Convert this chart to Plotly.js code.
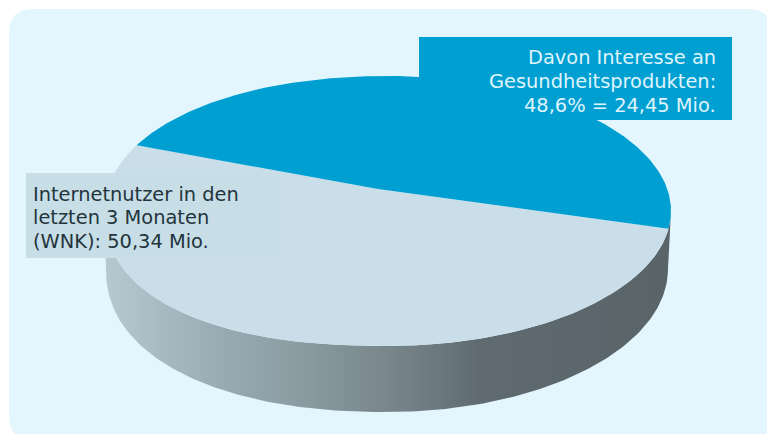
<!DOCTYPE html>
<html lang="de">
<head>
<meta charset="utf-8">
<script src="https://cdn.plot.ly/plotly-3.0.1.min.js"></script>
<style>html,body{margin:0;padding:0;background:#fff}#chart{width:767px;height:434px}</style>
</head>
<body>
<div id="chart"></div>
<script>
// Anteile der Internetnutzer in Prozent
const shareLabels = ['Interesse an Gesundheitsprodukten', 'Übrige Internetnutzer'];
const shareValues = [48.6, 51.4];
const shareColors = ['#009fd2', '#c9dee9'];

const interestLines = ['Davon Interesse an', 'Gesundheitsprodukten:', '48,6% = 24,45 Mio.'];
const totalLines = ['Internetnutzer in den', 'letzten 3 Monaten', '(WNK): 50,34 Mio.'];

// Scheibe in perspektivischer Ansicht; nUL/nLL runden die linke Seite etwas voller
const lid = {cx: 388, cy: 211, rx: 283, ry: 135, nUL: 2.1, nLL: 2.3};
const base = {cx: 387, cy: 269, rx: 281, ry: 143, nUL: 2, nLL: 2.2};
const hub = {x: 378, y: 189};
const startAngle = -69.4;    // Grad im Uhrzeigersinn ab 12 Uhr
const foreshorten = 0.8674;  // Stauchung der hinteren Kreishälfte

const rad = d => d * Math.PI / 180;

// Kreiswinkel (Uhrzeigersinn ab 12 Uhr) auf Parameterwinkel der Scheibenkante
function rimParam(deg) {
  const w = ((deg + 180) % 360 + 360) % 360 - 180;
  return 2 * Math.atan(foreshorten * Math.tan(rad(w) / 2));
}
function edgePoint(e, p) {
  const s = Math.sin(p), c = Math.cos(p);
  const n = s >= 0 ? 2 : (c >= 0 ? e.nUL : e.nLL);
  const e2 = 2 / n;
  return [e.cx + e.rx * Math.sign(s) * Math.pow(Math.abs(s), e2),
          e.cy - e.ry * Math.sign(c) * Math.pow(Math.abs(c), e2)];
}

function sliceTrace(fromDeg, toDeg, color, name) {
  const xs = [hub.x], ys = [hub.y];
  const steps = Math.ceil(Math.abs(toDeg - fromDeg));
  for (let i = 0; i <= steps; i++) {
    const pt = edgePoint(lid, rimParam(fromDeg + (toDeg - fromDeg) * i / steps));
    xs.push(pt[0]); ys.push(pt[1]);
  }
  xs.push(hub.x); ys.push(hub.y);
  return {type: 'scatter', mode: 'lines', x: xs, y: ys, name, fill: 'toself',
          fillcolor: color, line: {width: 0, color}, hoverinfo: 'skip', showlegend: false};
}

// Mantelfläche: untere Hälfte der Deckfläche und des Bodens
function wallTrace() {
  const xs = [], ys = [];
  for (let a = 90; a <= 270; a += 1) {
    const pt = edgePoint(lid, rad(a));
    xs.push(pt[0]); ys.push(pt[1]);
  }
  for (let a = 270; a >= 90; a -= 1) {
    const pt = edgePoint(base, rad(a));
    xs.push(pt[0]); ys.push(pt[1]);
  }
  return {type: 'scatter', mode: 'lines', x: xs, y: ys, name: 'Mantel', fill: 'toself',
          fillgradient: {type: 'horizontal', colorscale: [
            [0, '#b6c9d1'], [0.22, '#96a9b1'], [0.34, '#8b9ca2'],
            [0.49, '#7a888d'], [0.59, '#6b787d'], [0.66, '#5f6b70'], [1, '#596469']]},
          line: {width: 0, color: '#7a8a90'}, hoverinfo: 'skip', showlegend: false};
}

const deg0 = startAngle;
const deg1 = deg0 + shareValues[0] / 100 * 360;
const deg2 = deg1 + shareValues[1] / 100 * 360;

const traces = [
  wallTrace(),
  sliceTrace(deg1, deg2, shareColors[1], shareLabels[1]),
  sliceTrace(deg0, deg1, shareColors[0], shareLabels[0])
];

function roundedRect(x0, y0, x1, y1, r) {
  return `M${x0 + r},${y0} L${x1 - r},${y0} Q${x1},${y0} ${x1},${y0 + r} L${x1},${y1 - r} Q${x1},${y1} ${x1 - r},${y1} ` +
         `L${x0 + r},${y1} Q${x0},${y1} ${x0},${y1 - r} L${x0},${y0 + r} Q${x0},${y0} ${x0 + r},${y0} Z`;
}

const shapes = [
  {type: 'path', layer: 'below', path: roundedRect(9, 9, 772, 440, 24),
   fillcolor: '#e3f6fe', line: {width: 0}},
  {type: 'rect', layer: 'above', x0: 419, x1: 732, y0: 37, y1: 120,
   fillcolor: '#009fd2', line: {width: 0}},
  {type: 'rect', layer: 'above', x0: 26, x1: 279, y0: 173, y1: 258,
   fillcolor: '#c7dee7', line: {width: 0}}
];

const textFont = {family: 'DejaVu Sans, Verdana, sans-serif', size: 19.4};
const annotations = [];
interestLines.forEach((t, i) => annotations.push({
  x: 718, y: 57.5 + i * 24, text: t, showarrow: false, xanchor: 'right', yanchor: 'middle',
  xref: 'x', yref: 'y', font: {...textFont, color: '#dff4fc'}
}));
totalLines.forEach((t, i) => annotations.push({
  x: 31, y: 194 + i * 23.5, text: t, showarrow: false, xanchor: 'left', yanchor: 'middle',
  xref: 'x', yref: 'y', font: {...textFont, color: '#23343c'}
}));

const hidden = {visible: false, fixedrange: true};
const layout = {
  width: 767, height: 434,
  margin: {l: 0, r: 0, t: 0, b: 0},
  paper_bgcolor: '#ffffff', plot_bgcolor: 'rgba(0,0,0,0)',
  xaxis: {...hidden, range: [0, 767]},
  yaxis: {...hidden, range: [434, 0]},
  shapes, annotations, showlegend: false
};

Plotly.newPlot('chart', traces, layout, {displayModeBar: false, staticPlot: true});
</script>
</body>
</html>
